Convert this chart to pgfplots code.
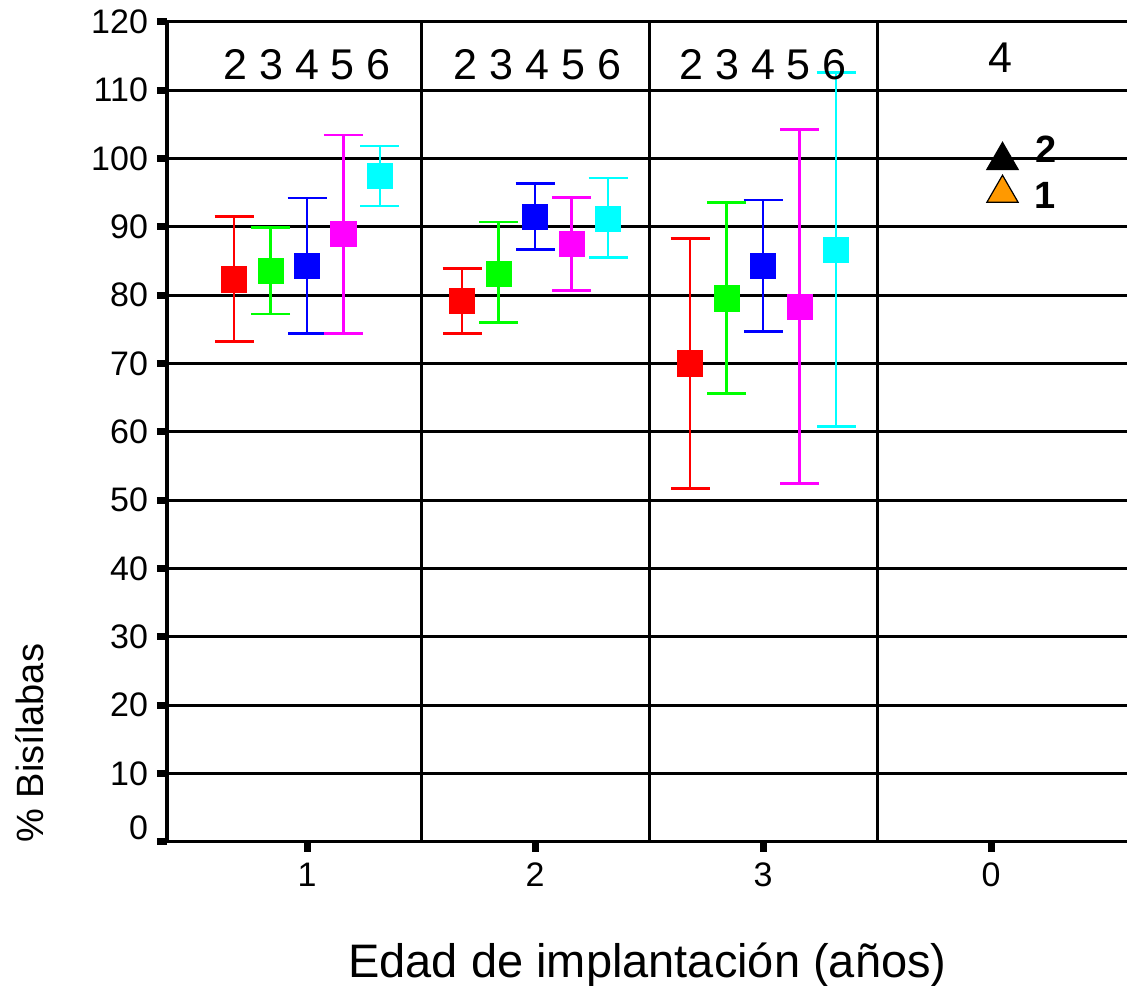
\documentclass[border=0pt]{standalone}
\usepackage{pgfplots}
\pgfplotsset{compat=1.18}
\usepackage{fontspec}
\setmainfont{Liberation Sans}
\definecolor{orng}{RGB}{255,153,0}
\definecolor{cR}{RGB}{255,0,0}
\definecolor{cG}{RGB}{0,255,0}
\definecolor{cB}{RGB}{0,0,255}
\definecolor{cM}{RGB}{255,0,255}
\definecolor{cC}{RGB}{0,255,255}
\pgfplotstableread{
x y ep em
-0.32 82.3 9.2 9.1
0.68 79.1 4.8 4.7
1.68 70.0 18.3 18.3
}\tred
\pgfplotstableread{
x y ep em
-0.16 83.5 6.4 6.3
0.84 83.1 7.6 7.1
1.84 79.5 14.0 13.9
}\tgreen
\pgfplotstableread{
x y ep em
0.0 84.3 9.9 9.9
1.0 91.4 4.9 4.7
2.0 84.3 9.6 9.6
}\tblue
\pgfplotstableread{
x y ep em
0.16 89.0 14.4 14.6
1.16 87.5 6.8 6.8
2.16 78.3 25.9 25.9
}\tmag
\pgfplotstableread{
x y ep em
0.32 97.4 4.4 4.4
1.32 91.1 6.0 5.6
2.32 86.6 26.0 25.8
}\tcyan
\pgfplotsset{
  ebar/.style={only marks, mark=square*, mark size=6.3pt, color=#1,
    error bars/.cd, y dir=both, y explicit, error mark=|,
    error mark options={mark size=9.75pt, line width=1.3pt, #1},
    error bar style={line width=1.3pt, #1}}
}
\begin{document}
\begin{tikzpicture}
\begin{axis}[
  at={(0,0)}, anchor=south west,
  scale only axis, width=480pt, height=410pt,
  xmin=-0.614, xmax=3.596, ymin=0, ymax=120,
  axis y line*=left, axis x line*=bottom,
  axis line style={line width=1.75pt, -},
  xtick={0,1,2,3}, xticklabels={1,2,3,0},
  ytick={10,20,...,120},
  extra y ticks={0},
  extra y tick style={yticklabel style={yshift=7pt}},
  ymajorgrids, grid style={black, line width=1.5pt},
  extra x ticks={0.5,1.5,2.5}, extra x tick labels={},
  extra x tick style={grid=major, major tick length=0pt},
  tick style={black, line width=3.5pt},
  major tick length=5pt,
  tick align=outside,
  /pgf/number format/assume math mode=true,
  ticklabel style={font=\fontsize{17}{17}\selectfont},
  yticklabel style={xshift=-1pt},
  xticklabel style={yshift=-2pt},
  clip=false,
]
\addplot[ebar=cR] table[x=x, y=y, y error plus=ep, y error minus=em] {\tred};
\addplot[ebar=cG] table[x=x, y=y, y error plus=ep, y error minus=em] {\tgreen};
\addplot[ebar=cB] table[x=x, y=y, y error plus=ep, y error minus=em] {\tblue};
\addplot[ebar=cM] table[x=x, y=y, y error plus=ep, y error minus=em] {\tmag};
\addplot[ebar=cC] table[x=x, y=y, y error plus=ep, y error minus=em] {\tcyan};
\addplot[only marks, mark=triangle*, mark size=9pt, mark options={fill=black, draw=black, line width=0.6pt}] coordinates {(3.05,99.7)};
\addplot[only marks, mark=triangle*, mark size=9pt, mark options={fill=orng, draw=black, line width=0.6pt}] coordinates {(3.05,94.9)};
\node[font=\fontsize{19}{19}\selectfont\bfseries] at (axis cs:3.24,101.3) {2};
\node[font=\fontsize{19}{19}\selectfont\bfseries] at (axis cs:3.235,94.6) {1};
\node[font=\fontsize{21.5}{21.5}\selectfont] at (axis cs:0,113.7) {2 3 4 5 6};
\node[font=\fontsize{21.5}{21.5}\selectfont] at (axis cs:1.01,113.7) {2 3 4 5 6};
\node[font=\fontsize{21.5}{21.5}\selectfont] at (axis cs:2.0,113.7) {2 3 4 5 6};
\node[font=\fontsize{21.5}{21.5}\selectfont] at (axis cs:3.04,114.7) {4};
\end{axis}
\node[rotate=90, font=\fontsize{19}{19}\selectfont] at (-68.5pt,49.3pt) {\% Bisílabas};
\node[font=\fontsize{23.5}{23.5}\selectfont] at (240.25pt,-61.5pt) {Edad de implantación (años)};
\pgfresetboundingbox
\path (-83.5pt,-71.65pt) rectangle (480pt,420.85pt);
\end{tikzpicture}
\end{document}
